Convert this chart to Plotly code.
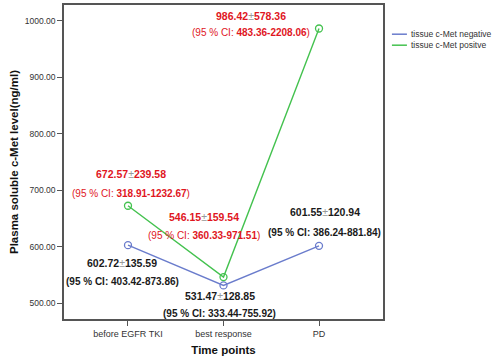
import plotly.graph_objects as go

categories = ["before EGFR TKI", "best response", "PD"]
neg_values = [602.72, 531.47, 601.55]
pos_values = [672.57, 546.15, 986.42]
neg_sd = [135.59, 128.85, 120.94]
pos_sd = [239.58, 159.54, 578.36]
neg_ci = ["403.42-873.86", "333.44-755.92", "386.24-881.84"]
pos_ci = ["318.91-1232.67", "360.33-971.51", "483.36-2208.06"]
y_ticks = [500, 600, 700, 800, 900, 1000]
series_names = ["tissue c-Met negative", "tissue c-Met positve"]
series_colors = ["#6a7ccc", "#44c24f"]

xi = list(range(len(categories)))

fig = go.Figure()
for vals, name, col in zip([neg_values, pos_values], series_names, series_colors):
    fig.add_trace(go.Scatter(
        x=xi, y=vals, mode="lines+markers", name=name, showlegend=False,
        line=dict(color=col, width=1.4),
        marker=dict(symbol="circle-open", size=7, color=col, line=dict(width=1.3)),
    ))

# label positions (data coords): (x, y_mean_label, y_ci_label)
pos_label_xy = [(0.03, 728, 695), (0.80, 652, 620), (1.29, 1009, 979)]
neg_label_xy = [(-0.06, 571, 539), (0.96, 512, 481), (2.06, 661, 626)]

font_fam = "Liberation Sans, Arial, sans-serif"
pm = "<span style='color:#999999;font-weight:normal'>±</span>"
for i in range(3):
    x, y1, y2 = pos_label_xy[i]
    fig.add_annotation(x=x, y=y1, xref="x", yref="y", showarrow=False,
                       text=f"<b>{pos_values[i]:.2f}</b>{pm}<b>{pos_sd[i]:.2f}</b>",
                       font=dict(family=font_fam, size=10.5, color="#e0161e"))
    fig.add_annotation(x=x, y=y2, xref="x", yref="y", showarrow=False,
                       text=f"(95 % CI: <b>{pos_ci[i]}</b>)",
                       font=dict(family=font_fam, size=10, color="#e0161e"))
    x, y1, y2 = neg_label_xy[i]
    fig.add_annotation(x=x, y=y1, xref="x", yref="y", showarrow=False,
                       text=f"<b>{neg_values[i]:.2f}</b>{pm}<b>{neg_sd[i]:.2f}</b>",
                       font=dict(family=font_fam, size=10.5, color="#1a1a1a"))
    fig.add_annotation(x=x, y=y2, xref="x", yref="y", showarrow=False,
                       text=f"<b>(95 % CI: {neg_ci[i]})</b>",
                       font=dict(family=font_fam, size=10, color="#1a1a1a"))

# manual legend (line swatches + labels)
leg_y = [0.907, 0.872]
for name, col, ly in zip(series_names, series_colors, leg_y):
    fig.add_shape(type="line", xref="paper", yref="paper", x0=1.028, x1=1.075, y0=ly, y1=ly,
                  line=dict(color=col, width=1.5))
    fig.add_annotation(x=1.08, y=ly, xref="paper", yref="paper", xanchor="left", yanchor="middle",
                       showarrow=False, text=name, font=dict(family=font_fam, size=8.5, color="#333333"))

fig.update_layout(
    width=500, height=358,
    margin=dict(l=64, r=117, t=5, b=39, autoexpand=False),
    paper_bgcolor="white", plot_bgcolor="white",
    font=dict(family=font_fam, size=8, color="#333333"),
    showlegend=False,
    xaxis=dict(
        range=[-0.67, 2.67], tickmode="array", tickvals=xi, ticktext=categories,
        showgrid=False, zeroline=False, showline=True, linecolor="#555555", linewidth=1.5,
        mirror=True, ticks="outside", ticklen=5, tickcolor="#555555", automargin=False,
        tickfont=dict(size=9, color="#333333"),
        title=dict(text="<b>Time points</b>", font=dict(size=11.5, color="#111111"), standoff=8),
    ),
    yaxis=dict(
        range=[472, 1028], tickmode="array", tickvals=y_ticks,
        ticktext=[f"{v:.2f}" for v in y_ticks],
        showgrid=False, zeroline=False, showline=True, linecolor="#555555", linewidth=1.5,
        mirror=True, ticks="outside", ticklen=5, tickcolor="#555555", automargin=False,
        tickfont=dict(size=8.5, color="#333333"),
        title=dict(text="<b>Plasma soluble c-Met level(ng/ml)</b>", font=dict(size=11.5, color="#111111"), standoff=4),
    ),
)

fig.write_html("out.html", config={"displayModeBar": False},
               post_script="document.body.style.margin='0';document.body.style.overflow='hidden';")
